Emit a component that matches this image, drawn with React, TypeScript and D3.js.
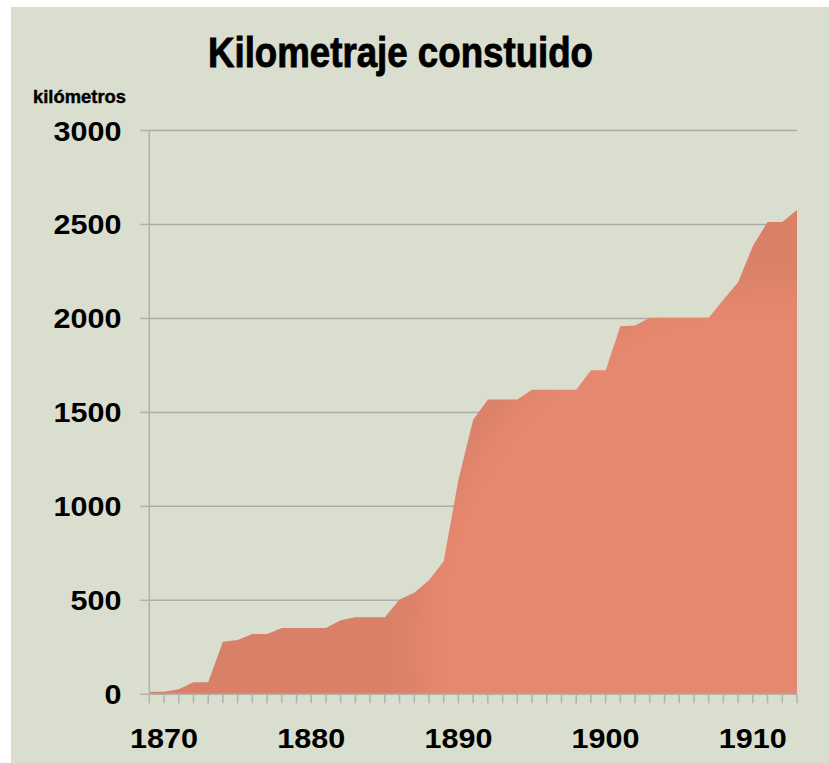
import React from "react";
import * as d3 from "d3";

// kilómetros construidos, year by year
const years = [
  1869, 1870, 1871, 1872, 1873, 1874, 1875, 1876, 1877, 1878, 1879, 1880,
  1881, 1882, 1883, 1884, 1885, 1886, 1887, 1888, 1889, 1890, 1891, 1892,
  1893, 1894, 1895, 1896, 1897, 1898, 1899, 1900, 1901, 1902, 1903, 1904,
  1905, 1906, 1907, 1908, 1909, 1910, 1911, 1912, 1913,
];
const km = [
  14, 14, 27, 64, 64, 280, 289, 321, 321, 353, 353, 353,
  353, 394, 410, 410, 410, 505, 540, 607, 708, 1142, 1461, 1568,
  1568, 1568, 1621, 1621, 1621, 1621, 1724, 1724, 1958, 1962, 2003, 2003,
  2003, 2003, 2003, 2100, 2193, 2385, 2513, 2513, 2577,
];
const yTicks = [0, 500, 1000, 1500, 2000, 2500, 3000];
const xLabels = [1870, 1880, 1890, 1900, 1910];

const W = 829;
const H = 763;
const left = 149.3;
const right = 797;
const top = 130.5;
const bottom = 694.3;

const App: React.FC = () => {
  const x = d3.scaleLinear().domain([years[0], years[years.length - 1]]).range([left, right]);
  const y = d3.scaleLinear().domain([0, 3000]).range([bottom, top]);

  const data = years.map((yr, i) => ({ yr, v: km[i] }));
  const area = d3
    .area<{ yr: number; v: number }>()
    .x((d) => x(d.yr))
    .y0(y(0))
    .y1((d) => y(d.v));

  const numFont = "'Liberation Sans', Arial, sans-serif";
  const narrow = "'Liberation Sans Narrow', 'Liberation Sans', Arial, sans-serif";

  return (
    <svg
      width={W}
      height={H}
      style={{ position: "absolute", left: 0, top: 0, background: "#fff" }}
    >
      <defs>
        <radialGradient id="fillGrad" gradientUnits="userSpaceOnUse" cx={773} cy={645} r={400}>
          <stop offset="0" stopColor="#e6886f" />
          <stop offset="0.83" stopColor="#e6886f" />
          <stop offset="0.92" stopColor="#dc826a" />
          <stop offset="1" stopColor="#d88068" />
        </radialGradient>
      </defs>
      <rect x={11} y={7} width={W - 11} height={H - 7} fill="#dadece" />

      {/* title */}
      <text
        x={208}
        y={67}
        fontFamily={narrow}
        fontWeight="bold"
        fontSize={42}
        textLength={385}
        lengthAdjust="spacingAndGlyphs"
        fill="#000"
        stroke="#000"
        strokeWidth={0.9}
      >
        Kilometraje constuido
      </text>
      <text
        x={33}
        y={102.5}
        fontFamily={narrow}
        fontWeight="bold"
        fontSize={18}
        textLength={93}
        lengthAdjust="spacingAndGlyphs"
        fill="#000"
        stroke="#000"
        strokeWidth={0.4}
      >
        kilómetros
      </text>

      {/* gridlines */}
      {yTicks.filter((t) => t > 0).map((t) => (
        <line key={t} x1={left} x2={right} y1={y(t)} y2={y(t)} stroke="#abaea8" strokeWidth={1.5} />
      ))}

      {/* area */}
      <path d={area(data) || ""} fill="url(#fillGrad)" />

      {/* y axis */}
      <line x1={left} x2={left} y1={top} y2={bottom} stroke="#b0b2ab" strokeWidth={1.5} />
      {yTicks.map((t) => (
        <g key={t}>
          <line x1={left - 9} x2={left} y1={y(t)} y2={y(t)} stroke="#b0b2ab" strokeWidth={1.5} />
          <text
            x={121.5}
            y={y(t) + 10}
            textAnchor="end"
            fontFamily={numFont}
            fontWeight="bold"
            fontSize={27}
            textLength={String(t).length * 17}
            lengthAdjust="spacingAndGlyphs"
            fill="#000"
          >
            {t}
          </text>
        </g>
      ))}

      {/* x axis */}
      <line x1={left} x2={right} y1={bottom} y2={bottom} stroke="#b0b2ab" strokeWidth={1.5} />
      {years.map((yr) => (
        <line key={yr} x1={x(yr)} x2={x(yr)} y1={bottom} y2={bottom + 9} stroke="#b0b2ab" strokeWidth={1.5} />
      ))}
      {xLabels.map((yr) => (
        <text
          key={yr}
          x={x(yr)}
          y={748}
          textAnchor="middle"
          fontFamily={numFont}
          fontWeight="bold"
          fontSize={27}
          textLength={68}
          lengthAdjust="spacingAndGlyphs"
          fill="#000"
        >
          {yr}
        </text>
      ))}
    </svg>
  );
};

export default App;
